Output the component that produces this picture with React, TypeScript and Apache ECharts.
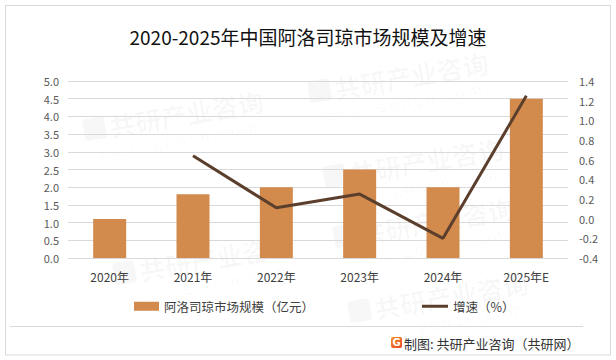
import React, { useEffect, useRef } from "react";
import * as echarts from "echarts";

const categories = ["2020年", "2021年", "2022年", "2023年", "2024年", "2025年E"];
const marketSize = [1.1, 1.8, 2.0, 2.5, 2.0, 4.5];
const growthRate = [null, 0.64, 0.11, 0.25, -0.2, 1.25];
const leftAxisRange = { min: 0, max: 5, interval: 0.5 };
const rightAxisRange = { min: -0.4, max: 1.4, interval: 0.2 };
const barName = "阿洛司琼市场规模（亿元）";
const lineName = "增速（%）";
const titleText = "2020-2025年中国阿洛司琼市场规模及增速";
const sourceText = "制图: 共研产业咨询（共研网）";

const FONT = "'Noto Sans CJK SC', 'Noto Sans', sans-serif";
const BAR_COLOR = "#D38A4D";
const LINE_COLOR = "#5B3F2C";
const WM_COLOR = "rgba(0,0,0,0.03)";

const watermarkCenters: [number, number][] = [
  [175, 118],
  [400, 80],
  [415, 165],
  [425, 225],
  [205, 262],
  [440, 300],
];

function watermark(cx: number, cy: number) {
  return {
    type: "group",
    x: cx,
    y: cy,
    rotation: 0.17,
    silent: true,
    z: 0,
    children: [
      {
        type: "rect",
        shape: { x: -92, y: -14, width: 22, height: 22, r: 3 },
        style: { fill: WM_COLOR },
      },
      {
        type: "text",
        style: {
          x: -66,
          y: -3,
          text: "共研产业咨询",
          fontSize: 26,
          fontWeight: "bold",
          fontFamily: FONT,
          fill: WM_COLOR,
          verticalAlign: "middle",
          align: "left",
        },
      },
      {
        type: "text",
        style: {
          x: -80,
          y: 22,
          text: "w w w . g o n y n . c o m",
          fontSize: 15,
          fontFamily: FONT,
          fill: WM_COLOR,
          verticalAlign: "middle",
          align: "left",
        },
      },
    ],
  };
}

export default function App() {
  const ref = useRef<HTMLDivElement>(null);

  useEffect(() => {
    if (!ref.current) return;
    const chart = echarts.init(ref.current, undefined, { renderer: "svg" });
    const fmt = (v: number) => (Math.abs(v) < 1e-9 ? 0 : v).toFixed(1);

    chart.setOption({
      animation: false,
      backgroundColor: "#ffffff",
      textStyle: { fontFamily: FONT },
      title: {
        text: titleText,
        left: "center",
        top: 27,
        padding: 0,
        textStyle: {
          fontSize: 19,
          fontWeight: "normal",
          color: "#111111",
          fontFamily: FONT,
        },
      },
      legend: [
        {
          data: [barName],
          left: 134,
          top: 300,
          padding: 0,
          itemWidth: 25,
          itemHeight: 9,
          itemGap: 5,
          icon: "rect",
          textStyle: { fontSize: 12.5, color: "#404040", fontFamily: FONT },
        },
        {
          data: [lineName],
          left: 422,
          top: 300,
          padding: 0,
          itemWidth: 26,
          itemHeight: 3,
          icon: "rect",
          textStyle: { fontSize: 12.5, color: "#404040", fontFamily: FONT },
        },
      ],
      grid: { left: 68, right: 48, top: 81, bottom: 102, containLabel: false },
      xAxis: {
        type: "category",
        data: categories,
        axisLine: { show: false },
        axisTick: { show: false },
        axisLabel: { color: "#404040", fontSize: 12, margin: 12, fontFamily: FONT },
      },
      yAxis: [
        {
          type: "value",
          min: leftAxisRange.min,
          max: leftAxisRange.max,
          interval: leftAxisRange.interval,
          axisLine: { show: false },
          axisTick: { show: false },
          splitLine: { lineStyle: { color: "#D9D9D9", width: 1 } },
          axisLabel: {
            color: "#595959",
            fontSize: 11,
            margin: 9,
            fontFamily: FONT,
            formatter: fmt,
          },
        },
        {
          type: "value",
          min: rightAxisRange.min,
          max: rightAxisRange.max,
          interval: rightAxisRange.interval,
          axisLine: { show: false },
          axisTick: { show: false },
          splitLine: { show: false },
          axisLabel: {
            color: "#595959",
            fontSize: 11,
            margin: 11,
            fontFamily: FONT,
            formatter: fmt,
          },
        },
      ],
      series: [
        {
          name: barName,
          type: "bar",
          data: marketSize,
          barWidth: 33,
          itemStyle: { color: BAR_COLOR },
          yAxisIndex: 0,
        },
        {
          name: lineName,
          type: "line",
          data: growthRate,
          yAxisIndex: 1,
          symbol: "none",
          connectNulls: false,
          lineStyle: { color: LINE_COLOR, width: 3 },
          itemStyle: { color: LINE_COLOR },
        },
      ],
      graphic: [
        ...watermarkCenters.map(([x, y]) => watermark(x, y)),
        {
          type: "rect",
          silent: true,
          z: 10,
          shape: { x: 5.5, y: 5.5, width: 605, height: 349.5 },
          style: { fill: "none", stroke: "#D9D9D9", lineWidth: 1 },
        },
        {
          type: "line",
          silent: true,
          z: 10,
          shape: { x1: 10, y1: 326.5, x2: 583, y2: 326.5 },
          style: { stroke: "#D9D9D9", lineWidth: 1 },
        },
        {
          type: "rect",
          silent: true,
          z: 10,
          shape: { x: 391, y: 337, width: 11, height: 11, r: 2 },
          style: {
            fill: new echarts.graphic.LinearGradient(0, 0, 1, 1, [
              { offset: 0, color: "#F7961D" },
              { offset: 1, color: "#E8402B" },
            ]),
          },
        },
        {
          type: "text",
          silent: true,
          z: 11,
          style: {
            x: 396.5,
            y: 342.5,
            text: "G",
            fontSize: 10,
            fontWeight: "bold",
            fontFamily: "'DejaVu Sans', sans-serif",
            fill: "#ffffff",
            align: "center",
            verticalAlign: "middle",
          },
        },
        {
          type: "text",
          silent: true,
          z: 10,
          style: {
            x: 404,
            y: 343,
            text: sourceText,
            fontSize: 13,
            fontFamily: FONT,
            fill: "#333333",
            align: "left",
            verticalAlign: "middle",
          },
        },
      ],
    });

    return () => chart.dispose();
  }, []);

  return (
    <div
      ref={ref}
      style={{ position: "fixed", left: 0, top: 0, width: 616, height: 360 }}
    />
  );
}
